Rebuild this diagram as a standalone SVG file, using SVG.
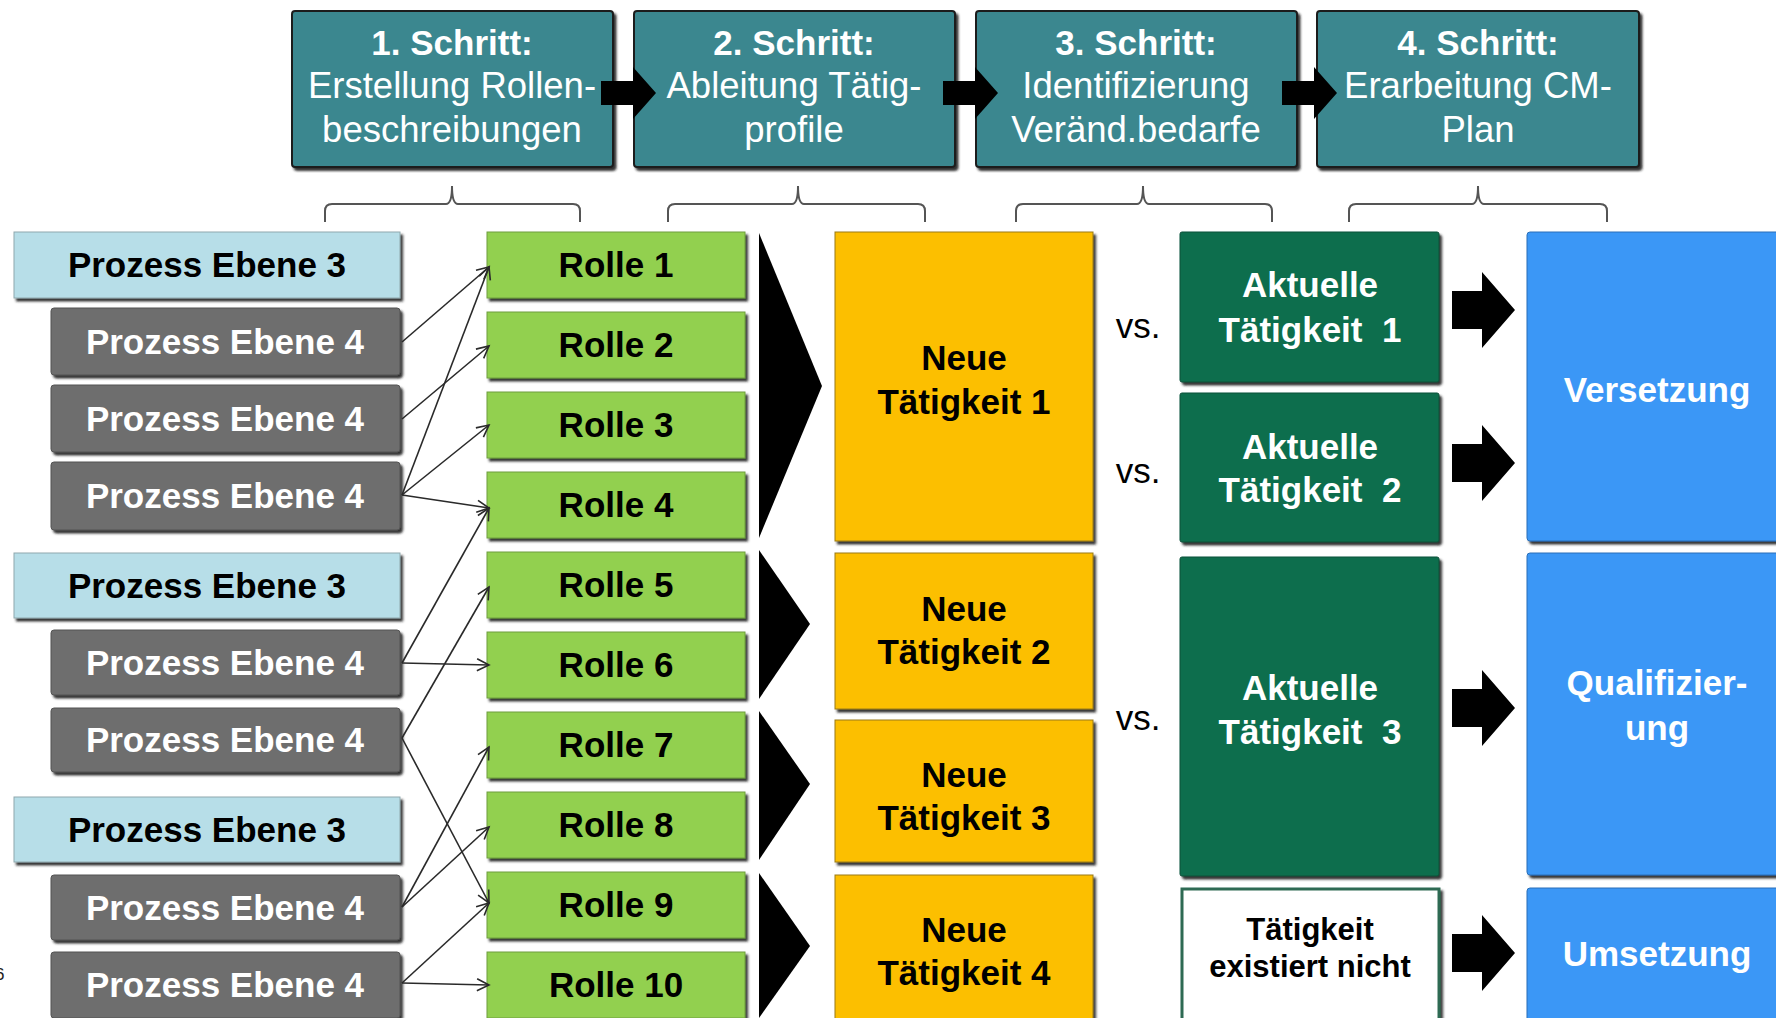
<svg xmlns="http://www.w3.org/2000/svg" xmlns:xlink="http://www.w3.org/1999/xlink" width="1776" height="1018" viewBox="0 0 1776 1018">
  <style>
    text { font-family: "Liberation Sans", Arial, sans-serif; text-anchor: middle; }
    .b { font-weight: bold; font-size: 35px; }
    .r { font-size: 35px; }
    .hr { font-size: 36.5px; }
    .w { fill: #ffffff; }
    .k { fill: #000000; }
    .step { fill: #3a878f; stroke: #1e1e1e; stroke-width: 2; filter: url(#sh); }
    .l3 { fill: #b7dee8; stroke: #8fa8ad; stroke-width: 1; filter: url(#sh); }
    .l4 { fill: #6e6e6e; stroke: #555555; stroke-width: 1; filter: url(#sh); }
    .role { fill: #92d050; stroke: #6f9e3c; stroke-width: 1; filter: url(#sh); }
    .neu { fill: #fcbf00; stroke: #9a7a10; stroke-width: 1; filter: url(#sh); }
    .akt { fill: #076e4e; stroke: #0a4f38; stroke-width: 1; filter: url(#sh); }
    .none { fill: #ffffff; stroke: #2f6a52; stroke-width: 3; filter: url(#sh); }
    .mass { fill: #3b97f6; stroke: #2a6fb8; stroke-width: 1; filter: url(#sh); }
    .brace { fill: none; stroke: #555555; stroke-width: 2; }
    .conn line { stroke: #2a2a2a; stroke-width: 1.6; marker-end: url(#open); }
    .blk { fill: #000000; }
  </style>
  <defs>
    <filter id="sh" x="-5%" y="-5%" width="115%" height="120%">
      <feDropShadow dx="2.5" dy="3" stdDeviation="0.8" flood-color="#1a1a1a" flood-opacity="0.9"/>
    </filter>
    <marker id="open" markerUnits="userSpaceOnUse" markerWidth="16" markerHeight="16" refX="13" refY="8" orient="auto">
      <path d="M1,2 L13,8 L1,14" fill="none" stroke="#2a2a2a" stroke-width="1.6"/>
    </marker>
    <!-- block arrow between step headers, tip at origin -->
    <path id="stepArrow" d="M-55,-12 H-23 V-26 L0,0 L-23,26 V12 H-55 Z"/>
    <!-- block arrow towards the measures column, tip at origin -->
    <path id="bigArrow" d="M-63,-19 H-33 V-38 L0,0 L-33,38 V19 H-63 Z"/>
  </defs>

  <!-- page number, partly outside the left edge -->
  <text x="4.5" y="980" style="font-size:17px;text-anchor:end" fill="#222">6</text>

  <!-- step headers -->
  <g id="step1">
    <rect class="step" x="292" y="11" width="321" height="156" rx="3"/>
    <text x="452" y="55" class="b w">1. Schritt:</text>
    <text x="452" y="98" class="hr w">Erstellung Rollen-</text>
    <text x="452" y="142" class="hr w">beschreibungen</text>
  </g>
  <g id="step2">
    <rect class="step" x="634" y="11" width="321" height="156" rx="3"/>
    <text x="794" y="55" class="b w">2. Schritt:</text>
    <text x="794" y="98" class="hr w">Ableitung Tätig-</text>
    <text x="794" y="142" class="hr w">profile</text>
  </g>
  <g id="step3">
    <rect class="step" x="976" y="11" width="321" height="156" rx="3"/>
    <text x="1136" y="55" class="b w">3. Schritt:</text>
    <text x="1136" y="98" class="hr w">Identifizierung</text>
    <text x="1136" y="142" class="hr w">Veränd.bedarfe</text>
  </g>
  <g id="step4">
    <rect class="step" x="1317" y="11" width="322" height="156" rx="3"/>
    <text x="1478" y="55" class="b w">4. Schritt:</text>
    <text x="1478" y="98" class="hr w">Erarbeitung CM-</text>
    <text x="1478" y="142" class="hr w">Plan</text>
  </g>

  <!-- braces under the step headers -->
  <g id="braces">
    <path class="brace" d="M325,222 V211 Q325,204 332,204 H446 Q452,204 452,186 Q452,204 458,204 H573 Q580,204 580,211 V222"/>
    <path class="brace" d="M668,222 V211 Q668,204 675,204 H792 Q798,204 798,186 Q798,204 804,204 H918 Q925,204 925,211 V222"/>
    <path class="brace" d="M1016,222 V211 Q1016,204 1023,204 H1137 Q1143,204 1143,186 Q1143,204 1149,204 H1265 Q1272,204 1272,211 V222"/>
    <path class="brace" d="M1349,222 V211 Q1349,204 1356,204 H1472 Q1478,204 1478,186 Q1478,204 1484,204 H1600 Q1607,204 1607,211 V222"/>
  </g>

  <!-- process levels -->
  <g id="p3a"><rect class="l3" x="14" y="232" width="386" height="66"/><text x="207" y="277" class="b k">Prozess Ebene 3</text></g>
  <g id="p4a"><rect class="l4" x="51" y="308" width="349" height="67" rx="3"/><text x="225" y="354" class="b w">Prozess Ebene 4</text></g>
  <g id="p4b"><rect class="l4" x="51" y="385" width="349" height="67" rx="3"/><text x="225" y="431" class="b w">Prozess Ebene 4</text></g>
  <g id="p4c"><rect class="l4" x="51" y="462" width="349" height="68" rx="3"/><text x="225" y="508" class="b w">Prozess Ebene 4</text></g>
  <g id="p3b"><rect class="l3" x="14" y="553" width="386" height="65"/><text x="207" y="598" class="b k">Prozess Ebene 3</text></g>
  <g id="p4d"><rect class="l4" x="51" y="630" width="349" height="65" rx="3"/><text x="225" y="675" class="b w">Prozess Ebene 4</text></g>
  <g id="p4e"><rect class="l4" x="51" y="708" width="349" height="64" rx="3"/><text x="225" y="752" class="b w">Prozess Ebene 4</text></g>
  <g id="p3c"><rect class="l3" x="14" y="797" width="386" height="65"/><text x="207" y="842" class="b k">Prozess Ebene 3</text></g>
  <g id="p4f"><rect class="l4" x="51" y="875" width="349" height="65" rx="3"/><text x="225" y="920" class="b w">Prozess Ebene 4</text></g>
  <g id="p4g"><rect class="l4" x="51" y="952" width="349" height="66" rx="3"/><text x="225" y="997" class="b w">Prozess Ebene 4</text></g>

  <!-- roles -->
  <g id="r1"><rect class="role" x="487" y="232" width="258" height="66"/><text x="616" y="277" class="b k">Rolle 1</text></g>
  <g id="r2"><rect class="role" x="487" y="312" width="258" height="66"/><text x="616" y="357" class="b k">Rolle 2</text></g>
  <g id="r3"><rect class="role" x="487" y="392" width="258" height="66"/><text x="616" y="437" class="b k">Rolle 3</text></g>
  <g id="r4"><rect class="role" x="487" y="472" width="258" height="66"/><text x="616" y="517" class="b k">Rolle 4</text></g>
  <g id="r5"><rect class="role" x="487" y="552" width="258" height="66"/><text x="616" y="597" class="b k">Rolle 5</text></g>
  <g id="r6"><rect class="role" x="487" y="632" width="258" height="66"/><text x="616" y="677" class="b k">Rolle 6</text></g>
  <g id="r7"><rect class="role" x="487" y="712" width="258" height="66"/><text x="616" y="757" class="b k">Rolle 7</text></g>
  <g id="r8"><rect class="role" x="487" y="792" width="258" height="66"/><text x="616" y="837" class="b k">Rolle 8</text></g>
  <g id="r9"><rect class="role" x="487" y="872" width="258" height="66"/><text x="616" y="917" class="b k">Rolle 9</text></g>
  <g id="r10"><rect class="role" x="487" y="952" width="258" height="66"/><text x="616" y="997" class="b k">Rolle 10</text></g>

  <!-- chevrons: roles condense into new activities -->
  <g id="chevrons">
    <polygon class="blk" points="759,233 822,386 759,538"/>
    <polygon class="blk" points="759,550 810,624 759,699"/>
    <polygon class="blk" points="759,711 810,784 759,860"/>
    <polygon class="blk" points="759,873 810,946 759,1018"/>
  </g>

  <!-- new activities -->
  <g id="n1"><rect class="neu" x="835" y="232" width="258" height="309"/><text x="964" y="370" class="b k">Neue</text><text x="964" y="414" class="b k">Tätigkeit 1</text></g>
  <g id="n2"><rect class="neu" x="835" y="553" width="258" height="156"/><text x="964" y="621" class="b k">Neue</text><text x="964" y="664" class="b k">Tätigkeit 2</text></g>
  <g id="n3"><rect class="neu" x="835" y="720" width="258" height="142"/><text x="964" y="787" class="b k">Neue</text><text x="964" y="830" class="b k">Tätigkeit 3</text></g>
  <g id="n4"><rect class="neu" x="835" y="875" width="258" height="150"/><text x="964" y="942" class="b k">Neue</text><text x="964" y="985" class="b k">Tätigkeit 4</text></g>

  <!-- comparison labels -->
  <g id="vs">
    <text x="1138" y="338" class="r k">vs.</text>
    <text x="1138" y="483" class="r k">vs.</text>
    <text x="1138" y="730" class="r k">vs.</text>
  </g>

  <!-- current activities -->
  <g id="a1"><rect class="akt" x="1180" y="232" width="259" height="150" rx="2"/><text x="1310" y="297" class="b w" style="white-space:pre">Aktuelle</text><text x="1310" y="342" class="b w" style="white-space:pre">Tätigkeit  1</text></g>
  <g id="a2"><rect class="akt" x="1180" y="393" width="259" height="149" rx="2"/><text x="1310" y="459" class="b w" style="white-space:pre">Aktuelle</text><text x="1310" y="502" class="b w" style="white-space:pre">Tätigkeit  2</text></g>
  <g id="a3"><rect class="akt" x="1180" y="557" width="259" height="319" rx="2"/><text x="1310" y="700" class="b w" style="white-space:pre">Aktuelle</text><text x="1310" y="744" class="b w" style="white-space:pre">Tätigkeit  3</text></g>
  <g id="a4"><rect class="none" x="1182" y="889" width="257" height="135"/><text x="1310" y="940" class="b k" style="font-size:31px">Tätigkeit</text><text x="1310" y="977" class="b k" style="font-size:31px">existiert nicht</text></g>

  <!-- measures -->
  <g id="m1"><rect class="mass" x="1527" y="232" width="262" height="309" rx="3"/><text x="1657" y="402" class="b w">Versetzung</text></g>
  <g id="m2"><rect class="mass" x="1527" y="553" width="262" height="322" rx="3"/><text x="1657" y="695" class="b w">Qualifizier-</text><text x="1657" y="740" class="b w">ung</text></g>
  <g id="m3"><rect class="mass" x="1527" y="888" width="262" height="140" rx="3"/><text x="1657" y="966" class="b w">Umsetzung</text></g>

  <!-- connectors -->
  <g id="connectors">
    <g id="stepArrows" class="blk">
      <use xlink:href="#stepArrow" x="656" y="93"/>
      <use xlink:href="#stepArrow" x="998" y="93"/>
      <use xlink:href="#stepArrow" x="1337" y="93"/>
    </g>
    <g id="measureArrows" class="blk">
      <use xlink:href="#bigArrow" x="1515" y="310"/>
      <use xlink:href="#bigArrow" x="1515" y="463"/>
      <use xlink:href="#bigArrow" x="1515" y="708"/>
      <use xlink:href="#bigArrow" x="1515" y="953"/>
    </g>
    <g class="conn">
      <line x1="402" y1="342" x2="489" y2="267"/>
      <line x1="402" y1="419" x2="489" y2="346"/>
      <line x1="402" y1="495" x2="489" y2="267"/>
      <line x1="402" y1="495" x2="489" y2="425"/>
      <line x1="402" y1="495" x2="489" y2="508"/>
      <line x1="402" y1="663" x2="489" y2="508"/>
      <line x1="402" y1="663" x2="489" y2="665"/>
      <line x1="402" y1="738" x2="489" y2="587"/>
      <line x1="402" y1="738" x2="489" y2="903"/>
      <line x1="402" y1="907" x2="489" y2="747"/>
      <line x1="402" y1="907" x2="489" y2="827"/>
      <line x1="402" y1="983" x2="489" y2="903"/>
      <line x1="402" y1="983" x2="489" y2="985"/>
    </g>
  </g>
</svg>
